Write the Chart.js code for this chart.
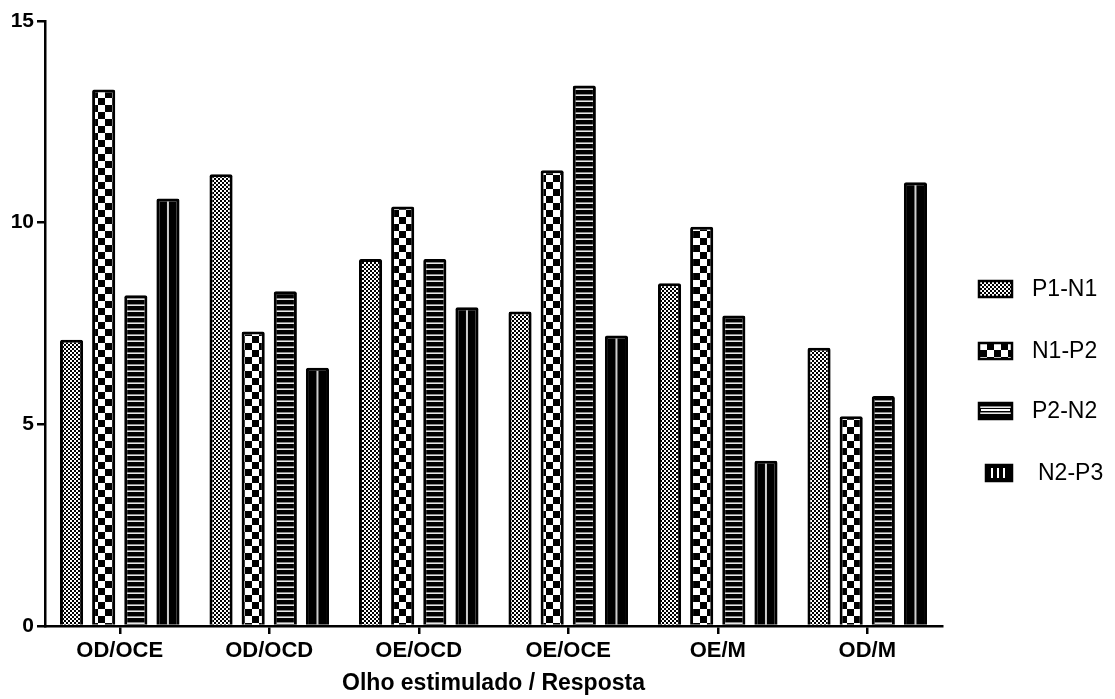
<!DOCTYPE html>
<html>
<head>
<meta charset="utf-8">
<script src="https://cdn.jsdelivr.net/npm/chart.js@4.4.0/dist/chart.umd.min.js"></script>
<style>
  html, body { margin: 0; padding: 0; background: #fff; }
</style>
</head>
<body>
<canvas id="myChart" width="1115" height="699"></canvas>
<script>
// data
var categories = ['OD/OCE', 'OD/OCD', 'OE/OCD', 'OE/OCE', 'OE/M', 'OD/M'];
var seriesNames = ['P1-N1', 'N1-P2', 'P2-N2', 'N2-P3'];
var p1n1 = [7.1, 11.2, 9.1, 7.8, 8.5, 6.9];
var n1p2 = [13.3, 7.3, 10.4, 11.3, 9.9, 5.2];
var p2n2 = [8.2, 8.3, 9.1, 13.4, 7.7, 5.7];
var n2p3 = [10.6, 6.4, 7.9, 7.2, 4.1, 11.0];
var yTicks = [0, 5, 10, 15];
var xTitle = 'Olho estimulado / Resposta';

var ctx = document.getElementById('myChart').getContext('2d');

function tile(w, h, draw) {
  var c = document.createElement('canvas');
  c.width = w; c.height = h;
  draw(c.getContext('2d'), w, h);
  return ctx.createPattern(c, 'repeat');
}

// fine dots
var dotPat = tile(4, 4, function (g) {
  g.fillStyle = '#fff'; g.fillRect(0, 0, 4, 4);
  g.fillStyle = '#000'; g.fillRect(0, 0, 2, 2); g.fillRect(2, 2, 2, 2);
});
// big checker
var checkPat = tile(14, 14, function (g) {
  g.fillStyle = '#fff'; g.fillRect(0, 0, 14, 14);
  g.fillStyle = '#000'; g.fillRect(0, 0, 7, 7); g.fillRect(7, 7, 7, 7);
});
// horizontal white lines on black
var hlinePat = tile(4, 6, function (g) {
  g.fillStyle = '#000'; g.fillRect(0, 0, 4, 6);
  g.fillStyle = '#e6e6e6'; g.fillRect(0, 5, 4, 1);
  g.fillStyle = '#888'; g.fillRect(0, 4, 4, 1);
});

var fills = [dotPat, checkPat, hlinePat, '#000'];
var values = [p1n1, n1p2, p2n2, n2p3];

// white line down the middle of the solid bars + legend on the right
var extras = {
  id: 'extras',
  afterDatasetsDraw: function (chart) {
    var c = chart.ctx;
    var meta = chart.getDatasetMeta(3);
    c.save();
    c.strokeStyle = '#cfcfcf';
    c.lineWidth = 2;
    meta.data.forEach(function (bar) {
      c.beginPath();
      c.moveTo(bar.x, bar.y + 3);
      c.lineTo(bar.x, bar.base);
      c.stroke();
    });
    c.restore();
  },
  afterDraw: function (chart) {
    var c = chart.ctx;
    var rows = [289, 351, 411, 473];
    c.save();
    c.font = '23px "Liberation Sans", Arial, sans-serif';
    c.textBaseline = 'middle';
    c.fillStyle = '#000';
    chart.data.datasets.forEach(function (ds, i) {
      var y = rows[i];
      var bx = i === 3 ? 986 : 979;
      var bw = i === 3 ? 26 : 33;
      var bh = 16;
      c.fillStyle = ds.backgroundColor;
      c.fillRect(bx, y - bh / 2, bw, bh);
      if (i === 2) {
        c.fillStyle = '#fff';
        c.fillRect(bx + 2, y - 2, bw - 4, 2);
      }
      if (i === 3) {
        c.fillStyle = '#fff';
        for (var k = 1; k <= 3; k++) c.fillRect(bx + 5 + (k - 1) * 6, y - bh / 2 + 3, 2, bh - 6);
      }
      c.strokeStyle = '#000';
      c.lineWidth = 2.5;
      c.strokeRect(bx, y - bh / 2, bw, bh);
      c.fillStyle = '#000';
      c.fillText(ds.label, i === 3 ? 1038 : 1032, y + 1);
    });
    c.restore();
  }
};

new Chart(ctx, {
  type: 'bar',
  data: {
    labels: categories,
    datasets: seriesNames.map(function (name, i) {
      return {
        label: name,
        data: values[i],
        backgroundColor: fills[i],
        borderColor: '#000',
        borderWidth: 3,
        borderRadius: 2,
        borderSkipped: 'start'
      };
    })
  },
  plugins: [extras],
  options: {
    responsive: false,
    animation: false,
    devicePixelRatio: 1,
    layout: { padding: { top: 21, right: 173, left: 0, bottom: 0 } },
    plugins: {
      legend: { display: false },
      tooltip: { enabled: false }
    },
    datasets: {
      bar: { categoryPercentage: 0.86, barPercentage: 0.72 }
    },
    scales: {
      x: {
        offset: true,
        afterFit: function (s) { s.height = 73; },
        border: { display: true, color: '#000', width: 2.5 },
        grid: { offset: false, drawOnChartArea: false, drawTicks: true, tickLength: 8, color: '#000', lineWidth: 2.5 },
        ticks: {
          color: '#000',
          padding: 4,
          maxRotation: 0,
          font: { family: '"Liberation Sans", Arial, sans-serif', size: 22, weight: 'bold' }
        },
        title: {
          display: true,
          text: xTitle,
          color: '#000',
          padding: { top: 0, bottom: 2 },
          font: { family: '"Liberation Sans", Arial, sans-serif', size: 23, weight: 'bold' }
        }
      },
      y: {
        min: 0,
        max: 15,
        afterFit: function (s) { s.width = 45; },
        afterBuildTicks: function (s) { s.ticks = yTicks.map(function (v) { return { value: v }; }); },
        border: { display: true, color: '#000', width: 2.5 },
        grid: { drawOnChartArea: false, drawTicks: true, tickLength: 8, color: '#000', lineWidth: 2.5 },
        ticks: {
          color: '#000',
          padding: 3,
          font: { family: '"Liberation Sans", Arial, sans-serif', size: 21, weight: 'bold' }
        }
      }
    }
  }
});
</script>
</body>
</html>
